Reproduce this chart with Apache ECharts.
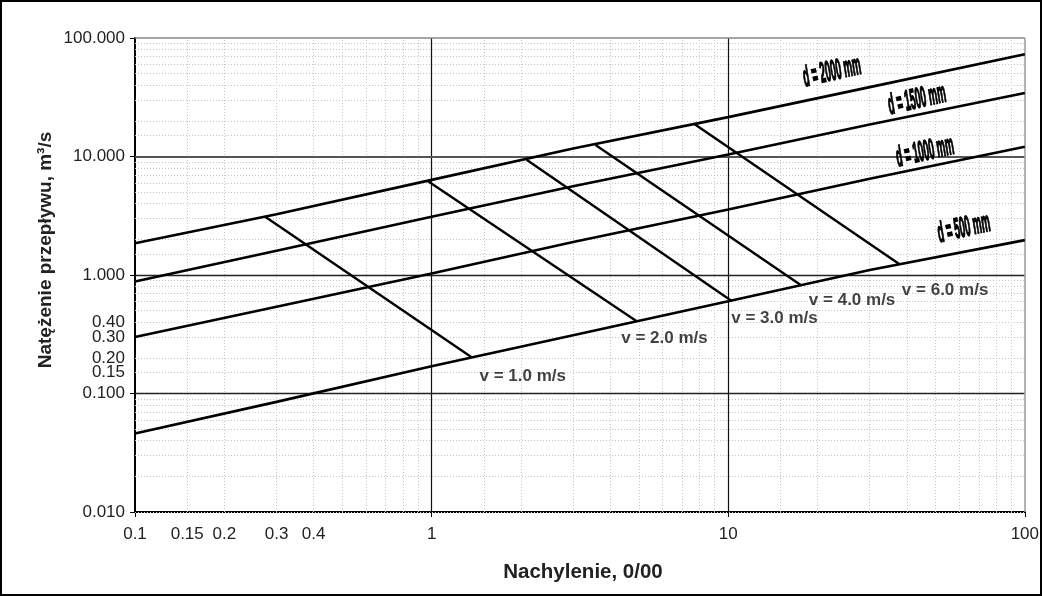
<!DOCTYPE html>
<html><head><meta charset="utf-8">
<script src="https://cdn.jsdelivr.net/npm/echarts@6/dist/echarts.min.js"></script>
<style>html,body{margin:0;padding:0;background:#fff}#c{width:1042px;height:596px}</style>
</head><body><div id="c"></div>
<script>
// ---- data ----
const xTickValues = [0.1, 0.15, 0.2, 0.3, 0.4, 1, 10, 100];
const xTickLabels = ['0.1', '0.15', '0.2', '0.3', '0.4', '1', '10', '100'];
const yTickValues = [0.01, 0.1, 0.15, 0.2, 0.3, 0.4, 1, 10, 100];
const yTickLabels = ['0.010', '0.100', '0.15', '0.20', '0.30', '0.40', '1.000', '10.000', '100.000'];
const majorTicks = [0.01, 0.1, 1, 10, 100];

const slopes = [0.1, 0.3, 1, 3, 10, 30, 100];
const qD2000 = [1.85, 3.25, 6.35, 11.7, 21.5, 38.5, 73];
const qD1500 = [0.88, 1.6, 3.1, 5.6, 10.4, 18.6, 34.4];
const qD1000 = [0.30, 0.54, 1.03, 1.9, 3.57, 6.5, 12.1];
const qD500  = [0.046, 0.085, 0.17, 0.31, 0.60, 1.1, 1.97];
const dNames = ['d = 2000 mm', 'd = 1500 mm', 'd = 1000 mm', 'd = 500 mm'];
const dLabelPos = [[22.4, 51.6], [43.3, 30], [46.1, 10.9], [62.3, 2.47]];

const vNames = ['v = 1.0 m/s', 'v = 2.0 m/s', 'v = 3.0 m/s', 'v = 4.0 m/s', 'v = 6.0 m/s'];
const vTop    = [[0.274, 3.12], [0.97, 6.2], [2.09, 9.4], [3.57, 12.5], [7.69, 18.8]];
const vBottom = [[1.36, 0.203], [4.9, 0.41], [10.3, 0.60], [17.6, 0.82], [37.7, 1.24]];
const vLabelPos = [[1.45, 0.1405], [4.36, 0.294], [10.24, 0.434], [18.7, 0.615], [38.5, 0.747]];

// ---- grid lines (positions only) ----
const mult = [1.5, 2, 3, 4, 5, 6, 7, 8, 9];
const xDecades = [0.1, 1, 10];
const yDecades = [0.01, 0.1, 1, 10];
const minorX = [], minorY = [];
xDecades.forEach(d => mult.forEach(m => minorX.push(+(d * m).toPrecision(3))));
yDecades.forEach(d => mult.forEach(m => minorY.push(+(d * m).toPrecision(3))));

const chart = echarts.init(document.getElementById('c'), null, {renderer: 'canvas'});
const dotted = {color: '#c6c6c6', width: 1, type: [1, 2]};
const gridLines = [];
minorX.forEach(v => gridLines.push({xAxis: v, lineStyle: dotted}));
minorY.forEach(v => gridLines.push({yAxis: v, lineStyle: dotted}));
[1, 10].forEach(v => gridLines.push({xAxis: v, lineStyle: {color: '#111', width: 1.2, type: 'solid'}}));
[0.1, 1].forEach(v => gridLines.push({yAxis: v, lineStyle: {color: '#222', width: 1.3, type: 'solid'}}));
gridLines.push({yAxis: 10, lineStyle: {color: '#555', width: 2, type: 'solid'}});
gridLines.push({yAxis: 100, lineStyle: {color: '#888', width: 1.5, type: 'solid'}});
gridLines.push({xAxis: 100, lineStyle: {color: '#999', width: 1.5, type: 'solid'}});

const dSeries = [qD2000, qD1500, qD1000, qD500].map((q, i) => ({
  name: dNames[i], type: 'line', z: 5, symbol: 'none', silent: true,
  lineStyle: {color: '#000', width: 2.6},
  data: slopes.map((s, k) => [s, q[k]])
}));
const vSeries = vNames.map((n, i) => ({
  name: n, type: 'line', z: 5, symbol: 'none', silent: true,
  lineStyle: {color: '#000', width: 2.4},
  data: [vTop[i], vBottom[i]]
}));

const axisLabelFont = {fontFamily: '"Liberation Sans", Arial, sans-serif', fontSize: 17, color: '#222'};

const option = {
  animation: false,
  backgroundColor: '#fff',
  grid: {left: 135, right: 16, top: 38, bottom: 84, containLabel: false},
  xAxis: {
    type: 'log', logBase: 10, min: 0.1, max: 100,
    axisLine: {show: true, lineStyle: {color: '#000', width: 2}},
    axisTick: {show: true, inside: false, length: 5, customValues: majorTicks, lineStyle: {color: '#000'}},
    axisLabel: Object.assign({show: true, margin: 14, customValues: xTickValues,
      formatter: v => { const i = xTickValues.findIndex(t => Math.abs(t - v) < 1e-9 * Math.max(1, t)); return i >= 0 ? xTickLabels[i] : ''; }}, axisLabelFont),
    splitLine: {show: false}, minorTick: {show: false}
  },
  yAxis: {
    type: 'log', logBase: 10, min: 0.01, max: 100,
    axisLine: {show: true, lineStyle: {color: '#000', width: 2}},
    axisTick: {show: true, inside: false, length: 5, customValues: majorTicks, lineStyle: {color: '#000'}},
    axisLabel: Object.assign({show: true, margin: 10, customValues: yTickValues,
      formatter: v => { const i = yTickValues.findIndex(t => Math.abs(t - v) < 1e-9 * Math.max(1, t)); return i >= 0 ? yTickLabels[i] : ''; }}, axisLabelFont),
    splitLine: {show: false}, minorTick: {show: false}
  },
  series: [
    {type: 'line', data: [], z: 1, silent: true,
     markLine: {silent: true, symbol: ['none', 'none'], label: {show: false}, animation: false, data: gridLines}},
    ...dSeries,
    ...vSeries,
    {type: 'scatter', z: 6, symbolSize: 0, silent: true,
     data: vLabelPos,
     label: {show: true, position: 'right', distance: 0,
       formatter: p => vNames[p.dataIndex],
       fontFamily: '"Liberation Sans", Arial, sans-serif', fontWeight: 'bold', fontSize: 17, color: '#111'}}
  ]
};
chart.setOption(option);

const graphics = [
  {type: 'rect', z: 100, silent: true, shape: {x: 1, y: 1, width: 1040, height: 594},
   style: {fill: 'none', stroke: '#000', lineWidth: 2}},
  {type: 'text', z: 100, x: 46, y: 250, rotation: Math.PI / 2, silent: true,
   style: {text: 'Natężenie przepływu, m³/s', font: 'bold 19px "Liberation Sans", Arial, sans-serif', fill: '#222',
     align: 'center', verticalAlign: 'middle', textAlign: 'center', textVerticalAlign: 'middle'}},
  {type: 'text', z: 100, x: 583, y: 572, silent: true,
   style: {text: 'Nachylenie, 0/00', font: 'bold 20.5px "Liberation Sans", Arial, sans-serif', fill: '#222',
     align: 'center', verticalAlign: 'middle', textAlign: 'center', textVerticalAlign: 'middle'}}
];
dNames.forEach((t, i) => {
  const p = chart.convertToPixel({xAxisIndex: 0, yAxisIndex: 0}, dLabelPos[i]);
  graphics.push({type: 'text', z: 100, x: p[0], y: p[1], rotation: 13 * Math.PI / 180,
    scaleX: 0.54, scaleY: 1.6, silent: true,
    style: {text: t, font: 'italic bold 18px "Liberation Sans", Arial, sans-serif', fill: '#000',
      stroke: '#000', lineWidth: 0.9,
      align: 'center', verticalAlign: 'middle', textAlign: 'center', textVerticalAlign: 'middle'}});
});
chart.setOption({graphic: graphics});
</script>
</body></html>
